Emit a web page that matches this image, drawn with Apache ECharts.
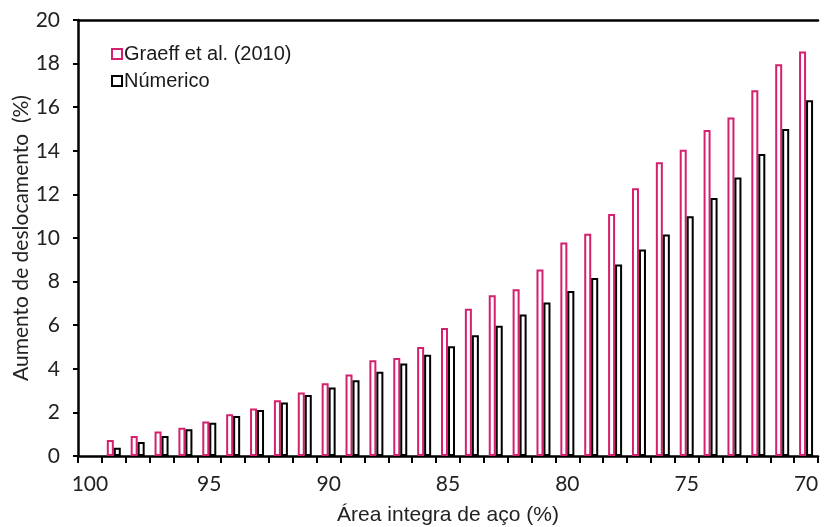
<!DOCTYPE html>
<html>
<head>
<meta charset="utf-8">
<script src="https://cdn.jsdelivr.net/npm/echarts@6/dist/echarts.min.js"></script>
<style>html,body{margin:0;padding:0;background:#fff}#c{width:830px;height:527px}</style>
</head>
<body>
<div id="c"></div>
<script>
var categories = ['100','99','98','97','96','95','94','93','92','91','90','89','88','87','86','85','84','83','82','81','80','79','78','77','76','75','74','73','72','71','70'];
var graeff = [null,0.73,0.92,1.12,1.30,1.58,1.91,2.18,2.56,2.91,3.34,3.74,4.39,4.50,5.00,5.87,6.76,7.37,7.65,8.55,9.79,10.19,11.10,12.28,13.47,14.05,14.95,15.53,16.78,17.97,18.55];
var numerico = [null,0.38,0.64,0.92,1.23,1.53,1.84,2.11,2.45,2.80,3.14,3.47,3.86,4.24,4.65,5.03,5.54,5.98,6.49,7.04,7.57,8.16,8.79,9.47,10.16,11.00,11.84,12.78,13.85,15.00,16.32];
var yTicks = {min: 0, max: 20, interval: 2};

var chart = echarts.init(document.getElementById('c'), null, {renderer: 'canvas'});
var calib = 'Lato, "Open Sans", sans-serif';
var arial = '"Liberation Sans", Arial, sans-serif';
chart.setOption({
  animation: false,
  backgroundColor: '#fff',
  grid: {left: 78, right: 12, top: 20, bottom: 71, containLabel: false, outerBoundsMode: 'none'},
  legend: {
    orient: 'vertical', left: 106, top: 39, itemGap: 7, itemWidth: 10, itemHeight: 10,
    icon: 'rect',
    textStyle: {fontFamily: arial, fontSize: 20, color: '#1a1a1a', padding: [0,0,0,-3]},
    data: ['Graeff et al. (2010)', 'Númerico']
  },
  xAxis: [{
    type: 'category', data: categories, position: 'bottom',
    axisLine: {show: true, lineStyle: {color: '#000', width: 2.5}},
    axisTick: {show: true, interval: 0, length: 7, lineStyle: {color: '#000', width: 2}},
    axisLabel: {interval: 4, margin: 18, fontFamily: calib, fontSize: 21, color: '#222'},
    name: 'Área integra de aço (%)', nameLocation: 'middle', nameGap: 49, nameMoveOverlap: false,
    nameTextStyle: {fontFamily: arial, fontSize: 21, color: '#222'}
  }, {
    type: 'category', data: categories, position: 'top',
    axisLine: {show: true, lineStyle: {color: '#000', width: 2.5}},
    axisTick: {show: false}, axisLabel: {show: false}
  }],
  yAxis: {
    type: 'value', min: yTicks.min, max: yTicks.max, interval: yTicks.interval,
    axisLine: {show: true, lineStyle: {color: '#000', width: 2.5}},
    axisTick: {show: true, length: 5, lineStyle: {color: '#000', width: 2}},
    splitLine: {show: false},
    axisLabel: {margin: 18, fontFamily: calib, fontSize: 21, color: '#222'},
    name: 'Aumento de deslocamento  (%)', nameLocation: 'middle', nameGap: 46, nameMoveOverlap: false,
    nameTextStyle: {fontFamily: calib, fontSize: 21, color: '#222'}
  },
  series: [{
    name: 'Graeff et al. (2010)', type: 'bar', data: graeff, barWidth: 7, barGap: '0%',
    itemStyle: {color: '#fff', borderColor: '#d4206e', borderWidth: 2}
  }, {
    name: 'Númerico', type: 'bar', data: numerico, barWidth: 7, barGap: '0%',
    itemStyle: {color: '#fff', borderColor: '#000', borderWidth: 2}
  }]
});
</script>
</body>
</html>
